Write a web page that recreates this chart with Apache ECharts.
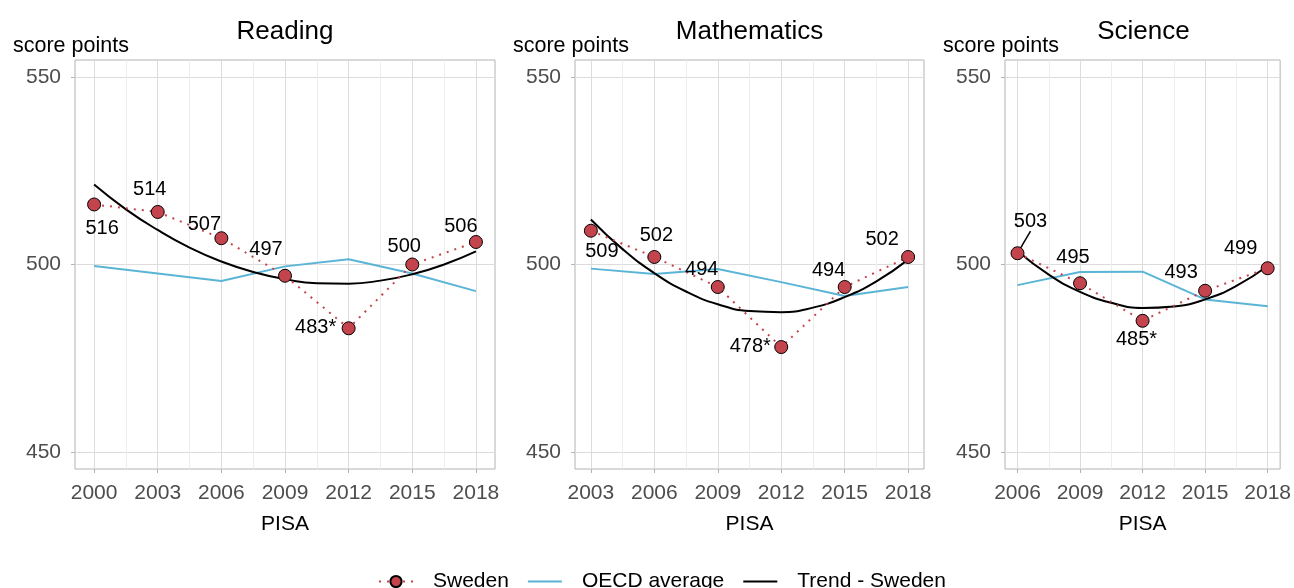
<!DOCTYPE html>
<html>
<head>
<meta charset="utf-8">
<title>PISA trends - Sweden</title>
<script src="https://cdn.jsdelivr.net/npm/echarts@6/dist/echarts.min.js"></script>
<style>
  html, body { margin: 0; padding: 0; background: #fff; }
  #chart { width: 1294px; height: 588px; }
</style>
</head>
<body>
<div id="chart"></div>
<script>
// Reading
var readingYears = [2000, 2003, 2006, 2009, 2012, 2015, 2018];
var readingSweden = [516, 514, 507, 497, 483, 500, 506];
var readingOecd = [499.6, 497.6, 495.6, 499.5, 501.4, 497.6, 492.9];
var readingLabels = ['516', '514', '507', '497', '483*', '500', '506'];
// trend curve, read every half cycle
var readingTrendYears = [2000, 2001.5, 2003, 2004.5, 2006, 2007.5, 2009, 2010.5, 2012, 2013.5, 2015, 2016.5, 2018];
var readingTrend = [521.3, 514.7, 509.2, 504.5, 500.8, 498.0, 496.1, 495.0, 494.9, 495.7, 497.4, 500.0, 503.5];

// Mathematics
var mathYears = [2003, 2006, 2009, 2012, 2015, 2018];
var mathSweden = [509, 502, 494, 478, 494, 502];
var mathOecd = [498.9, 497.5, 498.8, 495.3, 491.6, 494.0];
var mathLabels = ['509', '502', '494', '478*', '494', '502'];
var mathTrendYears = [2003, 2004.5, 2006, 2007.5, 2009, 2010.5, 2012, 2013.5, 2015, 2016.5, 2018];
var mathTrend = [512.0, 504.1, 497.7, 492.8, 489.4, 487.6, 487.3, 488.5, 491.3, 495.5, 501.3];

// Science
var scienceYears = [2006, 2009, 2012, 2015, 2018];
var scienceSweden = [503, 495, 485, 493, 499];
var scienceOecd = [494.5, 498.0, 498.1, 490.7, 488.9];
var scienceLabels = ['503', '495', '485*', '493', '499'];
var scienceTrendYears = [2006, 2007.5, 2009, 2010.5, 2012, 2013.5, 2015, 2016.5, 2018];
var scienceTrend = [503.6, 497.3, 492.7, 489.8, 488.4, 488.8, 490.7, 494.3, 499.6];

var yTicks = [450, 500, 550];

var FONT = 'Liberation Sans, Arial, sans-serif';
var RED = '#c4444d';
var BLUE = '#5ab4d6';

var panels = [
  {
    title: 'Reading', years: readingYears, sweden: readingSweden, oecd: readingOecd,
    trendYears: readingTrendYears, trend: readingTrend, labels: readingLabels, left: 75, width: 420,
    offsets: [[8, 24], [-8, -22], [-17, -14], [-19, -26], [-33, -1], [-8, -18], [-15, -16]]
  },
  {
    title: 'Mathematics', years: mathYears, sweden: mathSweden, oecd: mathOecd,
    trendYears: mathTrendYears, trend: mathTrend, labels: mathLabels, left: 575, width: 349,
    offsets: [[11, 21], [2, -22], [-16, -18], [-31, -1], [-16, -17], [-26, -18]]
  },
  {
    title: 'Science', years: scienceYears, sweden: scienceSweden, oecd: scienceOecd,
    trendYears: scienceTrendYears, trend: scienceTrend, labels: scienceLabels, left: 1005, width: 277,
    offsets: [[13, -32], [-7, -26], [-6, 19], [-24, -18], [-27, -20]], leader: 0
  }
];

function pairs(xs, ys) {
  return xs.map(function (x, k) { return [x, ys[k]]; });
}

var option = {
  animation: false,
  textStyle: { fontFamily: FONT },
  title: [],
  grid: [],
  xAxis: [],
  yAxis: [],
  series: [],
  legend: {
    data: [
      { name: 'Sweden' },
      { name: 'OECD average', itemStyle: { opacity: 0 } },
      { name: 'Trend - Sweden', itemStyle: { opacity: 0 } }
    ],
    left: 373,
    top: 566,
    itemWidth: 34,
    itemHeight: 14,
    itemGap: 18,
    textStyle: { fontSize: 21, color: '#000', fontFamily: FONT, padding: [0, 0, 0, 15] }
  }
};

panels.forEach(function (p, i) {
  var first = p.years[0], last = p.years[p.years.length - 1];
  var pad = (last - first) * 0.05;
  var minor = p.years.slice(1).map(function (y) { return y - 1.5; });

  option.grid.push({
    left: p.left, top: 60, width: p.width, height: 409,
    show: true, borderColor: '#b3b3b3', borderWidth: 1
  });

  option.title.push({
    text: p.title, left: p.left + p.width / 2, top: 19, textAlign: 'center', padding: 0,
    textStyle: { fontSize: 26, fontWeight: 'normal', color: '#000', fontFamily: FONT }
  });
  option.title.push({
    text: 'score points', left: p.left - 62, top: 35, padding: 0,
    textStyle: { fontSize: 21.5, fontWeight: 'normal', color: '#000', fontFamily: FONT }
  });

  // major years: labels, ticks, grid lines
  option.xAxis.push({
    type: 'value', gridIndex: i, min: first - pad, max: last + pad,
    name: 'PISA', nameLocation: 'middle', nameGap: 45,
    nameTextStyle: { fontSize: 21, color: '#000', fontFamily: FONT },
    axisLine: { show: false },
    axisTick: { show: true, customValues: p.years, length: 4, lineStyle: { color: '#b3b3b3' } },
    axisLabel: {
      customValues: p.years, margin: 14, fontSize: 21, color: '#4d4d4d', fontFamily: FONT,
      formatter: function (v) { return String(v); }
    },
    splitLine: { show: true, lineStyle: { color: '#dcdcdc', width: 1 } }
  });
  // minor grid lines between cycles
  option.xAxis.push({
    type: 'value', gridIndex: i, min: first - pad, max: last + pad, position: 'bottom',
    axisLine: { show: false },
    axisTick: { show: false, customValues: minor },
    axisLabel: { show: false },
    splitLine: { show: true, lineStyle: { color: '#ededed', width: 1 } }
  });

  option.yAxis.push({
    type: 'value', gridIndex: i, min: 445.5, max: 554.5,
    axisLine: { show: false },
    axisTick: { show: true, customValues: yTicks, length: 4, lineStyle: { color: '#b3b3b3' } },
    axisLabel: { customValues: yTicks, margin: 14, fontSize: 21, color: '#4d4d4d', fontFamily: FONT },
    splitLine: { show: true, lineStyle: { color: '#dcdcdc', width: 1 } }
  });

  option.series.push({
    name: 'OECD average', type: 'line', xAxisIndex: 2 * i, yAxisIndex: i,
    data: pairs(p.years, p.oecd), symbol: 'none',
    lineStyle: { color: BLUE, width: 2 }, itemStyle: { color: BLUE }, z: 2
  });
  option.series.push({
    name: 'Trend - Sweden', type: 'line', xAxisIndex: 2 * i, yAxisIndex: i,
    data: pairs(p.trendYears, p.trend), symbol: 'none', smooth: true,
    lineStyle: { color: '#000', width: 2 }, itemStyle: { color: '#000' }, z: 3
  });
  option.series.push({
    name: 'Sweden', type: 'line', xAxisIndex: 2 * i, yAxisIndex: i,
    data: p.years.map(function (x, k) {
      var item = { value: [x, p.sweden[k]], label: { offset: p.offsets[k] } };
      if (p.leader === k) {
        item.labelLine = { show: true, lineStyle: { color: '#000', width: 1.5 } };
      }
      return item;
    }),
    symbol: 'circle', symbolSize: 13, showSymbol: true,
    itemStyle: { color: RED, borderColor: '#000', borderWidth: 1 },
    lineStyle: { color: RED, width: 2, type: [2, 6] },
    label: {
      show: true, position: 'inside', fontSize: 20, color: '#000', fontFamily: FONT,
      formatter: function (params) { return p.labels[params.dataIndex]; }
    },
    z: 4
  });
});

var chart = echarts.init(document.getElementById('chart'));
chart.setOption(option);
</script>
</body>
</html>
